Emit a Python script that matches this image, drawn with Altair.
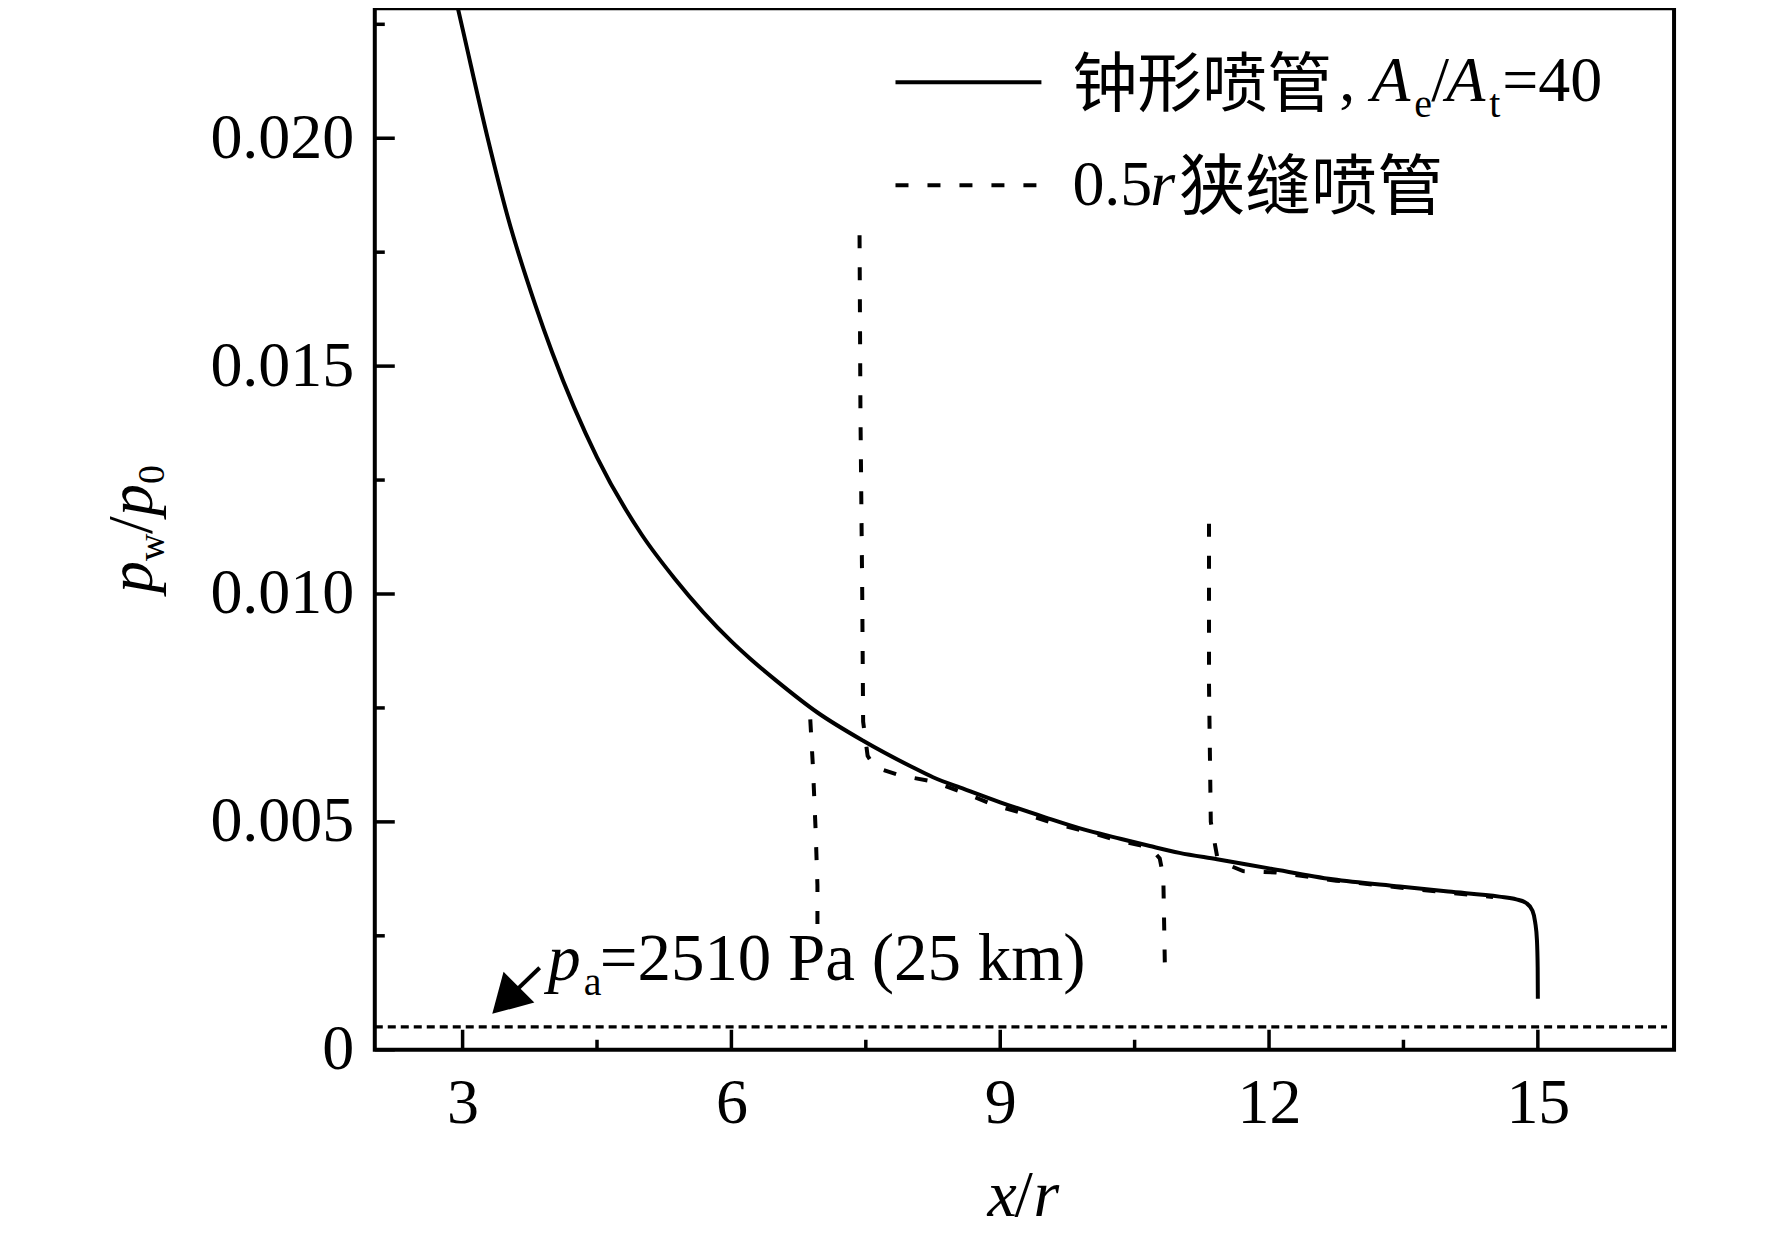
import altair as alt
import pandas as pd

# ---------------- data ----------------
bell_x = [2.93, 3.0, 3.28, 3.5, 3.81, 4.0, 4.5, 5.0, 5.37, 6.0, 6.21, 6.5, 6.96, 7.47,
          8.0, 8.25, 8.6, 9.0, 9.5, 9.92, 10.3, 10.67, 11.0, 11.42, 12.0, 12.71, 13.46,
          14.0, 14.57, 14.76, 14.87, 14.94, 14.97, 14.99, 14.998, 15.0]
bell_y = [0.0230, 0.0224, 0.0200, 0.0183, 0.01635, 0.0153, 0.0130, 0.0113, 0.01033, 0.00896,
          0.00858, 0.0081, 0.0074, 0.00678, 0.00622, 0.00598, 0.00572, 0.00543, 0.0051,
          0.00484, 0.00465, 0.00447, 0.00432, 0.00418, 0.00398, 0.00374, 0.00358, 0.00347,
          0.00336, 0.0033, 0.00322, 0.00305, 0.0028, 0.0024, 0.0018, 0.00112]

slit1_x = [6.88, 6.91, 6.94, 6.96, 6.96]
slit1_y = [0.00725, 0.0062, 0.0048, 0.0036, 0.00266]
slit2_x = [7.43, 7.44, 7.46, 7.47, 7.52, 7.6, 7.88, 8.24, 8.58, 8.92, 9.30, 9.63, 10.0,
           10.3, 10.67, 10.78, 10.82, 10.84]
slit2_y = [0.01787, 0.0140, 0.0100, 0.0072, 0.00645, 0.0062, 0.00602, 0.00589, 0.00565,
           0.00538, 0.00516, 0.00495, 0.00477, 0.0046, 0.00444, 0.0042, 0.0038, 0.00156]
slit3_x = [11.33, 11.33, 11.35, 11.42, 11.55, 11.71, 12.08, 12.42, 12.75, 13.5, 14.0, 14.5]
slit3_y = [0.01154, 0.0080, 0.0050, 0.00425, 0.00405, 0.00392, 0.00389, 0.0038, 0.00371,
           0.00355, 0.00345, 0.00335]

ambient_level = [0.0005]          # p_a / p0
arrow_x = [3.86, 3.48]            # tail, head
arrow_y = [0.0018, 0.00108]

x_major = [3, 6, 9, 12, 15]
x_minor = [4.5, 7.5, 10.5, 13.5]
y_major = [0, 0.005, 0.010, 0.015, 0.020]
y_minor = [0.0025, 0.0075, 0.0125, 0.0175, 0.0225]

legend_bell = "钟形喷管"
legend_slit = "狭缝喷管"
annot_text = "=2510 Pa (25 km)"

# ---------------- layout / style ----------------
W, H = 1300, 1042
X0, Y0 = 375, 8
XDOM = [2.02, 16.52]
YDOM = [0, 0.02285]
SERIF = "Liberation Serif"
CJK = "Noto Sans CJK SC"
LW = 4

xs = alt.Scale(domain=XDOM, nice=False, zero=False)
ys = alt.Scale(domain=YDOM, nice=False, zero=False)

X_AXIS = alt.Axis(
    values=x_major, title=None, labelFont=SERIF, labelFontSize=64, labelColor="black",
    ticks=False, tickSize=0, domain=False, grid=False, labelPadding=22,
    labelFlush=False, labelOverlap=False)
Y_AXIS = alt.Axis(
    values=y_major, title=None, labelFont=SERIF, labelFontSize=64, labelColor="black",
    ticks=False, tickSize=0, domain=False, grid=False, labelPadding=21,
    labelFlush=False, labelOverlap=False,
    labelExpr="datum.value == 0 ? '0' : format(datum.value, '.3f')")


def X(f):
    return alt.X(f, scale=xs, axis=X_AXIS)


def Y(f):
    return alt.Y(f, scale=ys, axis=Y_AXIS)


bell_df = pd.DataFrame({"x": bell_x, "y": bell_y, "i": list(range(len(bell_x)))})
rows = []
for seg, (sx, sy) in enumerate([(slit1_x, slit1_y), (slit2_x, slit2_y), (slit3_x, slit3_y)]):
    for i, (a, b) in enumerate(zip(sx, sy)):
        rows.append({"x": a, "y": b, "seg": seg, "i": i})
slit_df = pd.DataFrame(rows)

solid = alt.Chart(bell_df).mark_line(
    color="black", strokeWidth=LW, clip=True, interpolate="monotone"
).encode(x=X("x:Q"), y=Y("y:Q"), order="i:Q")

ambient = alt.Chart(pd.DataFrame({"v": ambient_level})).mark_rule(
    color="black", strokeWidth=3.3, strokeDash=[8, 5]
).encode(y=Y("v:Q"), x=alt.value(0), x2=alt.value(W - 7))

slit = alt.Chart(slit_df).mark_line(
    color="black", strokeWidth=LW, strokeDash=[13, 19], clip=True
).encode(x=X("x:Q"), y=Y("y:Q"), detail="seg:N", order="i:Q")


def xticks(vals, length):
    return alt.Chart(pd.DataFrame({"v": vals})).mark_rule(color="black", strokeWidth=3.5).encode(
        x=X("v:Q"), y=alt.value(H), y2=alt.value(H - length))


def yticks(vals, length):
    return alt.Chart(pd.DataFrame({"v": vals})).mark_rule(color="black", strokeWidth=3.5).encode(
        y=Y("v:Q"), x=alt.value(0), x2=alt.value(length))


arrow_df = pd.DataFrame({"x1": [arrow_x[0]], "y1": [arrow_y[0]], "x2": [arrow_x[1]], "y2": [arrow_y[1]]})
shaft = alt.Chart(arrow_df).mark_rule(color="black", strokeWidth=4).encode(
    x=X("x1:Q"), y=Y("y1:Q"), x2="x2:Q", y2="y2:Q")
head = alt.Chart(pd.DataFrame({"x": [arrow_x[1]], "y": [arrow_y[1]]})).mark_point(
    shape="triangle-up", filled=True, size=1900, angle=225, color="black", opacity=1
).encode(x=X("x:Q"), y=Y("y:Q"))

one = pd.DataFrame({"k": [0]})


def txt(s, ax, ay, size, font=SERIF, style="normal", angle=0, align="left"):
    return alt.Chart(one).mark_text(
        text=s, font=font, fontSize=size, fontStyle=style, angle=angle,
        align=align, baseline="alphabetic", color="black"
    ).encode(x=alt.value(ax - X0), y=alt.value(ay - Y0))


leg_solid = alt.Chart(one).mark_rule(color="black", strokeWidth=4).encode(
    x=alt.value(896 - X0), x2=alt.value(1042 - X0), y=alt.value(82 - Y0))
leg_dash = alt.Chart(one).mark_rule(color="black", strokeWidth=LW, strokeDash=[13, 19]).encode(
    x=alt.value(896 - X0), x2=alt.value(1042 - X0), y=alt.value(185 - Y0))

texts = [
    # legend row 1
    txt(legend_bell, 1073, 106, 65, font=CJK),
    txt(",", 1340, 101, 64),
    txt("A", 1372, 101, 64, style="italic"),
    txt("e", 1415, 117, 40),
    txt("/", 1432, 101, 64),
    txt("A", 1447, 101, 64, style="italic"),
    txt("t", 1490, 117, 40),
    txt("=40", 1503, 101, 64),
    # legend row 2
    txt("0.5", 1073, 205, 64),
    txt("r", 1151, 205, 64, style="italic"),
    txt(legend_slit, 1180, 209, 66, font=CJK),
    # ambient annotation
    txt("p", 548, 980, 66, style="italic"),
    txt("a", 584, 995, 40),
    txt(annot_text, 600, 980, 67),
    # x title
    txt("x", 988, 1216, 66, style="italic"),
    txt("/", 1015, 1216, 66),
    txt("r", 1034, 1216, 66, style="italic"),
    # y title (rotated)
    txt("p", 152, 593, 64, style="italic", angle=270),
    txt("w", 164, 561, 38, angle=270),
    txt("/", 152, 534, 64, angle=270),
    txt("p", 152, 516, 64, style="italic", angle=270),
    txt("0", 164, 484, 38, angle=270),
]

chart = alt.layer(
    solid, ambient, slit,
    xticks(x_major, 20), xticks(x_minor, 10), yticks(y_major, 20), yticks(y_minor, 10),
    shaft, head, leg_solid, leg_dash, *texts
).properties(
    width=W, height=H,
    autosize=alt.AutoSizeParams(type="none"),
    padding={"left": 367, "top": 0, "right": 90, "bottom": 180},
    background="white",
).configure_view(stroke="black", strokeWidth=4)

chart.save("out.html", embed_options={"renderer": "svg", "actions": False})
